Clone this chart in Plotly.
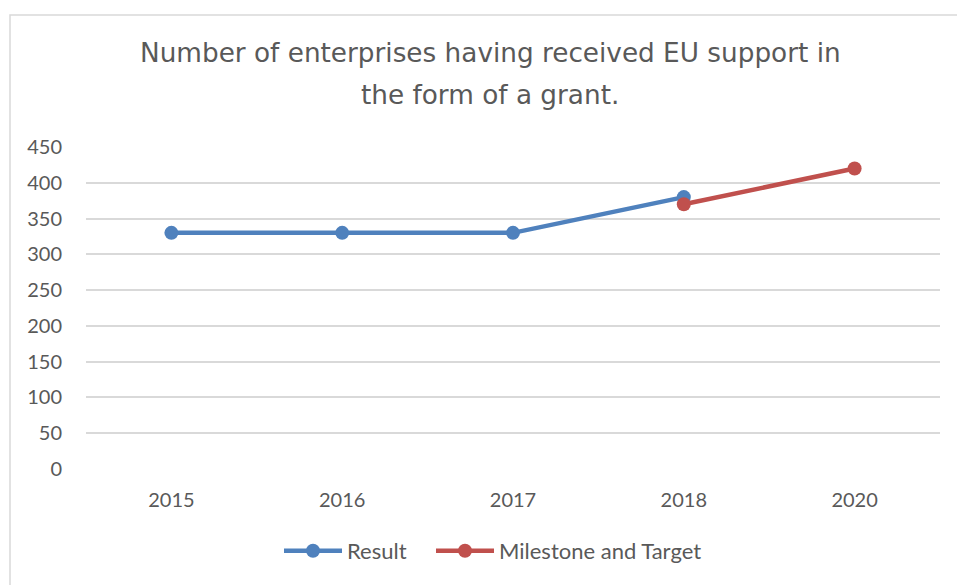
import plotly.graph_objects as go

# Chart data
years = ["2015", "2016", "2017", "2018", "2020"]
result_years = ["2015", "2016", "2017", "2018"]
result_values = [330, 330, 330, 380]
target_years = ["2018", "2020"]
target_values = [370, 420]
y_ticks = [0, 50, 100, 150, 200, 250, 300, 350, 400, 450]

title_lines = ["Number of enterprises having received EU support in", "the form of a grant."]

W, H = 957, 585
L, R, T, B = 86, 940, 147, 469  # plot area in pixels

def px_x(px):
    return (px - L) / (R - L)

def px_y(py):
    return (B - py) / (B - T)

fig = go.Figure()
fig.add_trace(go.Scatter(
    x=result_years, y=result_values, name="Result", mode="lines+markers",
    line=dict(color="#4F81BD", width=4.5), marker=dict(size=14, color="#4F81BD"),
    legend="legend",
))
fig.add_trace(go.Scatter(
    x=target_years, y=target_values, name="Milestone and Target", mode="lines+markers",
    line=dict(color="#C0504D", width=4.5), marker=dict(size=14, color="#C0504D"),
    legend="legend2",
))

tick_font = dict(family="Lato, Liberation Sans, sans-serif", size=20, color="#595959")
legend_font = dict(family="Lato, Liberation Sans, sans-serif", size=22, color="#595959")
legend_common = dict(orientation="h", yanchor="middle", y=px_y(551), xanchor="left",
                     font=legend_font, itemwidth=58, bgcolor="rgba(0,0,0,0)")

fig.update_layout(
    width=W, height=H,
    margin=dict(l=L, r=W - R, t=T, b=H - B),
    paper_bgcolor="white", plot_bgcolor="white",
    showlegend=True,
    legend=dict(x=px_x(279), **legend_common),
    legend2=dict(x=px_x(431), **legend_common),
    xaxis=dict(type="category", categoryorder="array", categoryarray=years,
               range=[-0.5, 4.5], showgrid=False, showline=False, zeroline=False,
               ticks="", tickfont=tick_font, ticklabelstandoff=17),
    yaxis=dict(range=[0, 450], tickvals=y_ticks, showgrid=True, gridcolor="#D9D9D9",
               gridwidth=1.5, zeroline=False, showline=False, ticks="",
               tickfont=tick_font, ticklabelstandoff=23),
)

for i, line in enumerate(title_lines):
    fig.add_annotation(
        text=line, xref="paper", yref="paper", x=px_x(490), y=px_y(53 + 42 * i),
        xanchor="center", yanchor="middle", showarrow=False,
        font=dict(family="DejaVu Sans, Verdana, sans-serif", size=26.3, color="#595959"),
    )

# Outer chart border
fig.add_shape(type="rect", xref="paper", yref="paper",
              x0=px_x(10), x1=px_x(1200), y0=px_y(800), y1=px_y(15),
              line=dict(color="#D9D9D9", width=1.5), fillcolor="rgba(0,0,0,0)", layer="below")

fig.write_html("out.html")
